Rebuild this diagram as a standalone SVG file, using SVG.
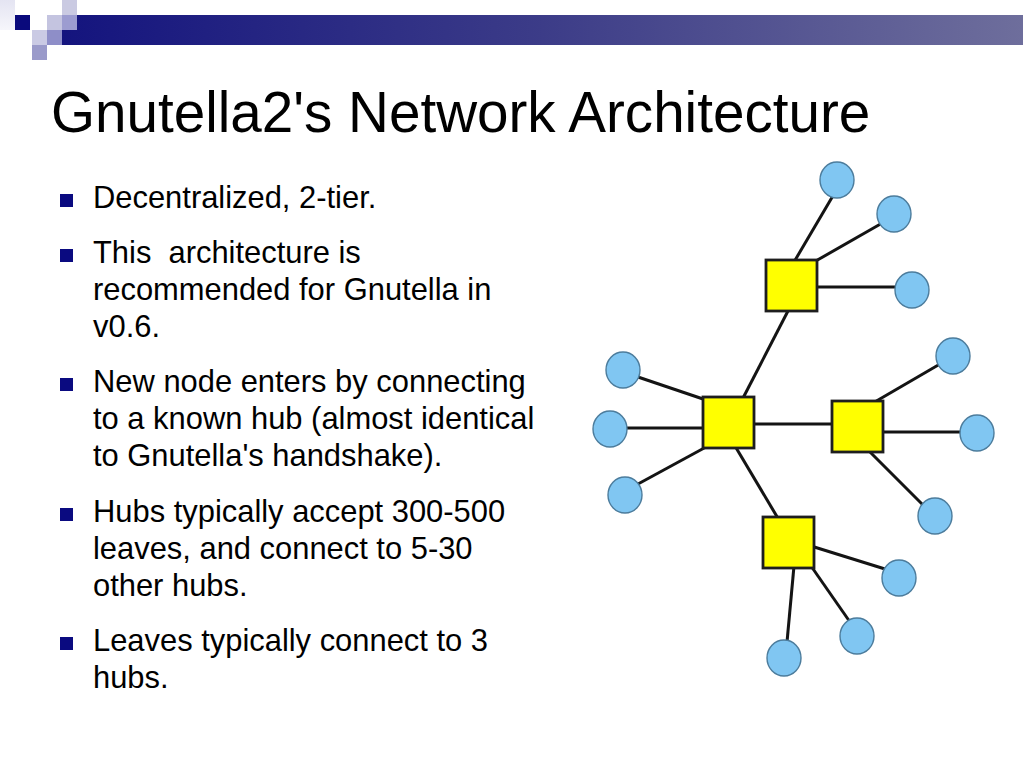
<svg xmlns="http://www.w3.org/2000/svg" width="1023" height="767" viewBox="0 0 1023 767">
<defs>
<linearGradient id="bar" x1="0" y1="0" x2="1" y2="0">
<stop offset="0" stop-color="#14147e"/>
<stop offset="0.5" stop-color="#3c3c88"/>
<stop offset="1" stop-color="#6e6e9c"/>
</linearGradient>
<linearGradient id="pale" x1="0" y1="0" x2="0" y2="1">
<stop offset="0" stop-color="#e4e4f2"/>
<stop offset="1" stop-color="#f6f6fb"/>
</linearGradient>
</defs>
<style>
.title{font-family:"Liberation Sans",Arial,sans-serif;font-size:56.6px;fill:#000}
.txt{font-family:"Liberation Sans",Arial,sans-serif;font-size:30.9px;fill:#000}
.bul{fill:#0a0a80}
.edge{stroke:#141414;stroke-width:3;fill:none}
.hub{fill:#ffff00;stroke:#1e1e1e;stroke-width:2.8}
.leaf{fill:#80c6f2;stroke:#4c7c9c;stroke-width:1.4}
</style>
<rect width="1023" height="767" fill="#ffffff"/>
<g id="decoration">
<rect x="0" y="0" width="15" height="30" fill="url(#pale)"/>
<rect x="62" y="15" width="961" height="30" fill="url(#bar)"/>
<rect x="62" y="0" width="15" height="15" fill="#cacae2"/>
<rect x="15" y="15" width="15" height="15" fill="#0a0a7c"/>
<rect x="47" y="15" width="15" height="15" fill="#c4c4e0"/>
<rect x="62" y="15" width="15" height="15" fill="#9c9cd0"/>
<rect x="32" y="30" width="15" height="15" fill="#cacae4"/>
<rect x="47" y="30" width="15" height="15" fill="#8e8ec8"/>
<rect x="32" y="45" width="15" height="15" fill="#9a9aca"/>
</g>
<text class="title" x="51" y="132">Gnutella2's Network Architecture</text>
<g id="bullets">
<rect class="bul" x="60" y="194" width="13" height="13"/>
<rect class="bul" x="60" y="249" width="13" height="13"/>
<rect class="bul" x="60" y="378" width="13" height="13"/>
<rect class="bul" x="60" y="508" width="13" height="13"/>
<rect class="bul" x="60" y="637" width="13" height="13"/>
<text class="txt" x="93" y="208">Decentralized, 2-tier.</text>
<text class="txt" x="93" y="263" xml:space="preserve">This  architecture is</text>
<text class="txt" x="93" y="300">recommended for Gnutella in</text>
<text class="txt" x="93" y="337">v0.6.</text>
<text class="txt" x="93" y="392">New node enters by connecting</text>
<text class="txt" x="93" y="429">to a known hub (almost identical</text>
<text class="txt" x="93" y="466">to Gnutella's handshake).</text>
<text class="txt" x="93" y="522">Hubs typically accept 300-500</text>
<text class="txt" x="93" y="559">leaves, and connect to 5-30</text>
<text class="txt" x="93" y="596">other hubs.</text>
<text class="txt" x="93" y="651">Leaves typically connect to 3</text>
<text class="txt" x="93" y="688">hubs.</text>
</g>
<g id="connectors">
<line class="edge" x1="794" y1="262" x2="834" y2="194"/>
<line class="edge" x1="814" y1="262" x2="884" y2="222"/>
<line class="edge" x1="814" y1="287" x2="897" y2="287"/>
<line class="edge" x1="789" y1="309" x2="742" y2="400"/>
<line class="edge" x1="706" y1="400" x2="635" y2="376"/>
<line class="edge" x1="706" y1="428" x2="624" y2="428"/>
<line class="edge" x1="751" y1="424" x2="835" y2="424"/>
<line class="edge" x1="873" y1="403" x2="940" y2="364"/>
<line class="edge" x1="880" y1="432" x2="962" y2="432"/>
<line class="edge" x1="706" y1="447" x2="638" y2="484"/>
<line class="edge" x1="735" y1="446" x2="779" y2="520"/>
<line class="edge" x1="868" y1="450" x2="923" y2="505"/>
<line class="edge" x1="811" y1="546" x2="885" y2="569"/>
<line class="edge" x1="811" y1="566" x2="850" y2="622"/>
<line class="edge" x1="794" y1="566" x2="787" y2="642"/>
</g>
<g id="hub1"><rect class="hub" x="766" y="260" width="51" height="51"/></g>
<g id="hub2"><rect class="hub" x="703" y="397" width="51" height="51"/></g>
<g id="hub3"><rect class="hub" x="832" y="401" width="51" height="51"/></g>
<g id="hub4"><rect class="hub" x="763" y="517" width="51" height="51"/></g>
<g id="leaf1"><ellipse class="leaf" cx="837" cy="180" rx="17" ry="18"/></g>
<g id="leaf2"><ellipse class="leaf" cx="894" cy="214" rx="17" ry="18"/></g>
<g id="leaf3"><ellipse class="leaf" cx="912" cy="290" rx="17" ry="18"/></g>
<g id="leaf4"><ellipse class="leaf" cx="953" cy="356" rx="17" ry="18"/></g>
<g id="leaf5"><ellipse class="leaf" cx="977" cy="433" rx="17" ry="18"/></g>
<g id="leaf6"><ellipse class="leaf" cx="623" cy="370" rx="17" ry="18"/></g>
<g id="leaf7"><ellipse class="leaf" cx="610" cy="429" rx="17" ry="18"/></g>
<g id="leaf8"><ellipse class="leaf" cx="625" cy="495" rx="17" ry="18"/></g>
<g id="leaf9"><ellipse class="leaf" cx="935" cy="516" rx="17" ry="18"/></g>
<g id="leaf10"><ellipse class="leaf" cx="899" cy="578" rx="17" ry="18"/></g>
<g id="leaf11"><ellipse class="leaf" cx="857" cy="636" rx="17" ry="18"/></g>
<g id="leaf12"><ellipse class="leaf" cx="784" cy="658" rx="17" ry="18"/></g>
</svg>
